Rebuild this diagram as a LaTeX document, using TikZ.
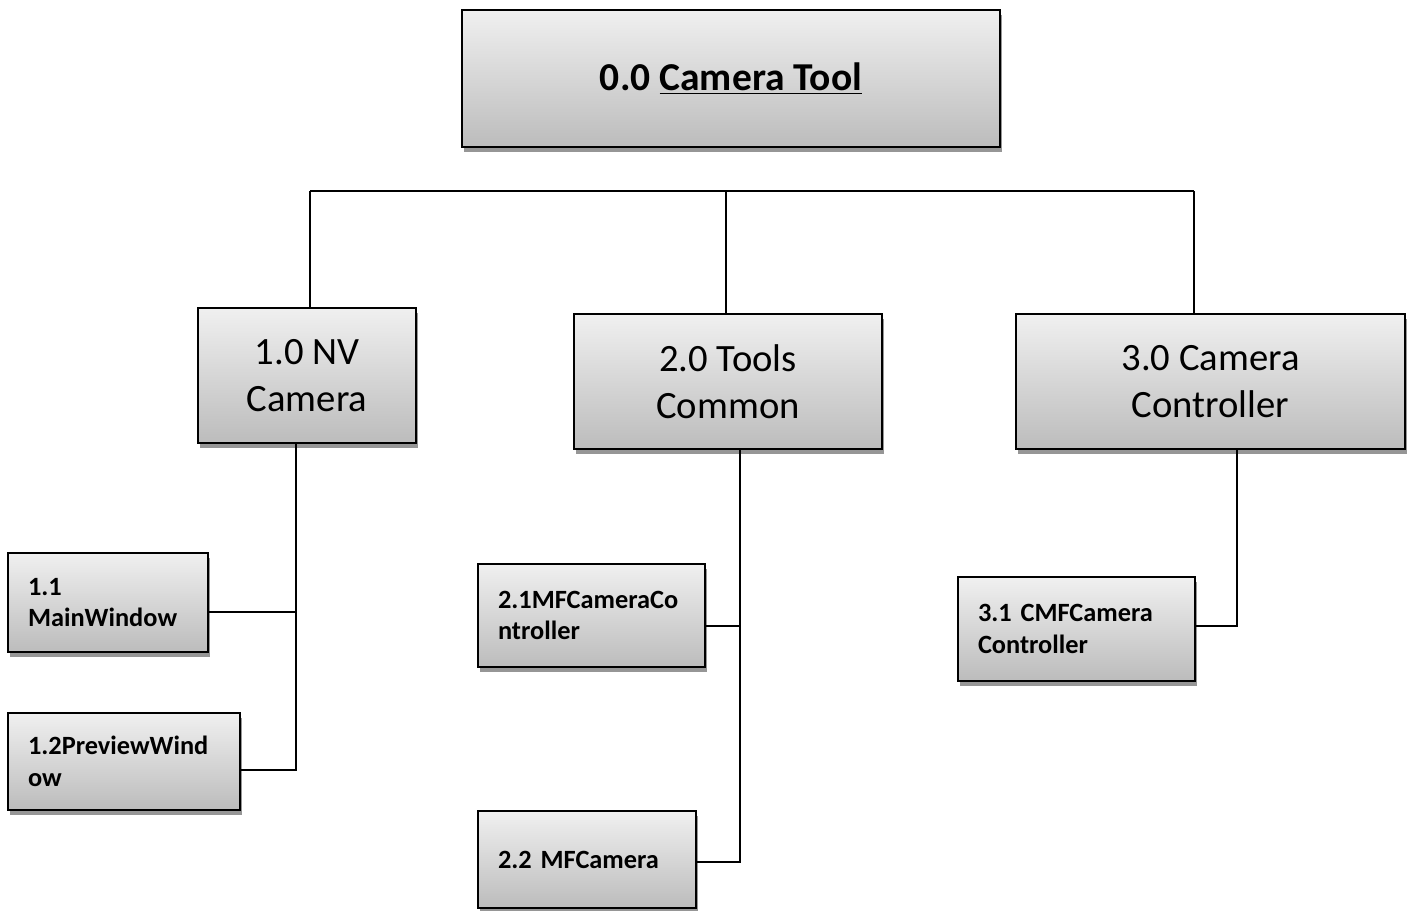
\documentclass[tikz,border=0pt]{standalone}
\usepackage{fontspec}
\setmainfont{Carlito}
\usetikzlibrary{shadows,positioning}
\definecolor{boxtop}{RGB}{240,240,240}
\definecolor{boxbot}{RGB}{188,188,188}
\definecolor{shade}{RGB}{150,150,150}
\frenchspacing

\begin{document}
\begin{tikzpicture}[x=0.02cm,y=-0.02cm,line width=1.1pt,
  box/.style={draw=black,line width=1.1pt,inner sep=0pt,
    top color=boxtop,bottom color=boxbot,
    drop shadow={shadow xshift=0.04cm,shadow yshift=-0.1cm,fill=shade,opacity=1}},
  bigbox/.style={box,align=center,font=\fontsize{22}{27}\selectfont},
  smallbox/.style={box,align=left,font=\fontsize{15}{18}\selectfont\bfseries}]
  \useasboundingbox (0,0) rectangle (1411,911);

  % top level
  \node[box,minimum width=10.76cm,minimum height=2.74cm,
    font=\fontsize{22.5}{27}\selectfont\bfseries] (n0) at (731,78.5)
    {0.0 \underline{Camera Tool}};

  % second level
  \node[bigbox,minimum width=4.36cm,minimum height=2.70cm] (n1) at (307,375.5)
    {1.0 NV\\Camera};
  \node[bigbox,minimum width=6.16cm,minimum height=2.70cm] (n2) at (728,381.5)
    {2.0 Tools\\Common};
  \node[bigbox,minimum width=7.78cm,minimum height=2.70cm] (n3) at (1210.5,381.5)
    {3.0 Camera\\Controller};

  % third level
  \node[smallbox,minimum width=4.00cm,minimum height=1.98cm,text width=3.2cm]
    (n11) at (108,602.5) {1.1\\MainWindow};
  \node[smallbox,minimum width=4.64cm,minimum height=1.94cm,text width=3.84cm]
    (n12) at (124,761.5) {1.2PreviewWind\\ow};
  \node[smallbox,minimum width=4.54cm,minimum height=2.06cm,text width=3.74cm]
    (n21) at (591.5,615.5) {2.1MFCameraCo\\ntroller};
  \node[smallbox,minimum width=4.36cm,minimum height=1.94cm,text width=3.56cm]
    (n22) at (587,859.5) {2.2 MFCamera};
  \node[smallbox,minimum width=4.74cm,minimum height=2.08cm,text width=3.94cm]
    (n31) at (1076.5,629) {3.1 CMFCamera\\Controller};

  % bus under the top box
  \coordinate (busL) at (310,191);
  \coordinate (busR) at (1194,191);
  \draw (busL) -- (busR);
  \draw (busL) -- (busL |- n1.north);
  \draw (n2.north -| 726,0) -- (726,191);
  \draw (busR) -- (busR |- n3.north);

  % branches
  \coordinate (t1) at (296,770);
  \draw (t1 |- n1.south) -- (t1) -- ([yshift=-0.17cm]n12.east);
  \draw ([yshift=-0.19cm]n11.east) -- ([yshift=-0.19cm]n11.east -| t1);
  \coordinate (t2) at (740,862);
  \draw (t2 |- n2.south) -- (t2) -- (t2 -| n22.east);
  \draw ([yshift=-0.21cm]n21.east) -- ([yshift=-0.21cm]n21.east -| t2);
  \coordinate (t3) at (1237,626);
  \draw (t3 |- n3.south) -- (t3) -- (t3 -| n31.east);
\end{tikzpicture}
\end{document}
